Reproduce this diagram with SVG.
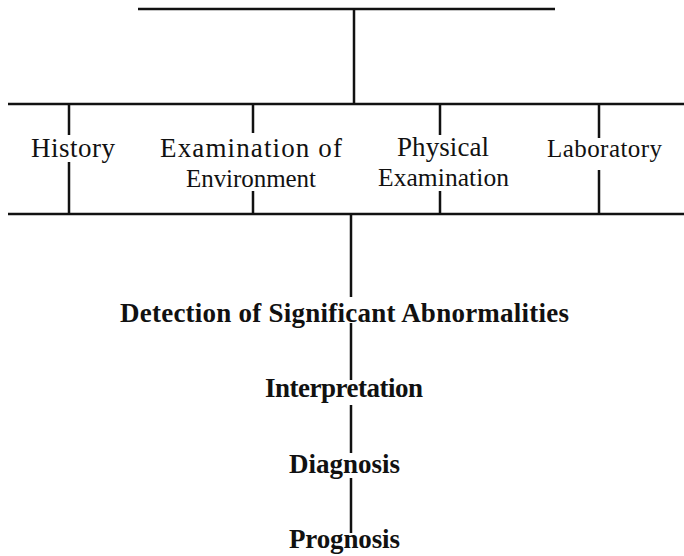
<svg xmlns="http://www.w3.org/2000/svg" width="684" height="556" viewBox="0 0 684 556">
<style>
.ln{stroke:#111;stroke-width:2.5;fill:none;stroke-linecap:butt}
.t{font-family:"Liberation Serif","Times New Roman",serif;fill:#111;text-anchor:middle}
.b{font-family:"Liberation Serif","Times New Roman",serif;font-weight:bold;fill:#111;text-anchor:middle;font-size:27px}
</style>
<rect width="684" height="556" fill="#fff"/>
<g id="connectors">
<path class="ln" d="M138 9H555M354 9V104M8 104H684M8 214H684"/>
<path class="ln" d="M69 104V135M69 162V214"/>
<path class="ln" d="M253 104V133M253 191V214"/>
<path class="ln" d="M440 104V135M440 191V214"/>
<path class="ln" d="M599 104V138M599 170V214"/>
<path class="ln" d="M351 214V297M351 323V380M351 405V453M351 478V533"/>
</g>
<g id="history"><text class="t" x="73" y="157" font-size="27" textLength="84" lengthAdjust="spacing">History</text></g>
<g id="environment"><text class="t" x="251" y="157" font-size="27" textLength="182" lengthAdjust="spacing">Examination of</text><text class="t" x="251" y="187" font-size="25" textLength="130" lengthAdjust="spacing">Environment</text></g>
<g id="physical"><text class="t" x="443" y="156" font-size="27" textLength="92" lengthAdjust="spacing">Physical</text><text class="t" x="443.5" y="186" font-size="25.5" textLength="131" lengthAdjust="spacing">Examination</text></g>
<g id="laboratory"><text class="t" x="604.5" y="157" font-size="25" textLength="115" lengthAdjust="spacing">Laboratory</text></g>
<g id="detection"><text class="b" x="344.5" y="322" font-size="27.5" textLength="449" lengthAdjust="spacing">Detection of Significant Abnormalities</text></g>
<g id="interpretation"><text class="b" x="344" y="397" textLength="158" lengthAdjust="spacing">Interpretation</text></g>
<g id="diagnosis"><text class="b" x="344.5" y="473" textLength="111" lengthAdjust="spacing">Diagnosis</text></g>
<g id="prognosis"><text class="b" x="344.5" y="548" textLength="111" lengthAdjust="spacing">Prognosis</text></g>
</svg>
